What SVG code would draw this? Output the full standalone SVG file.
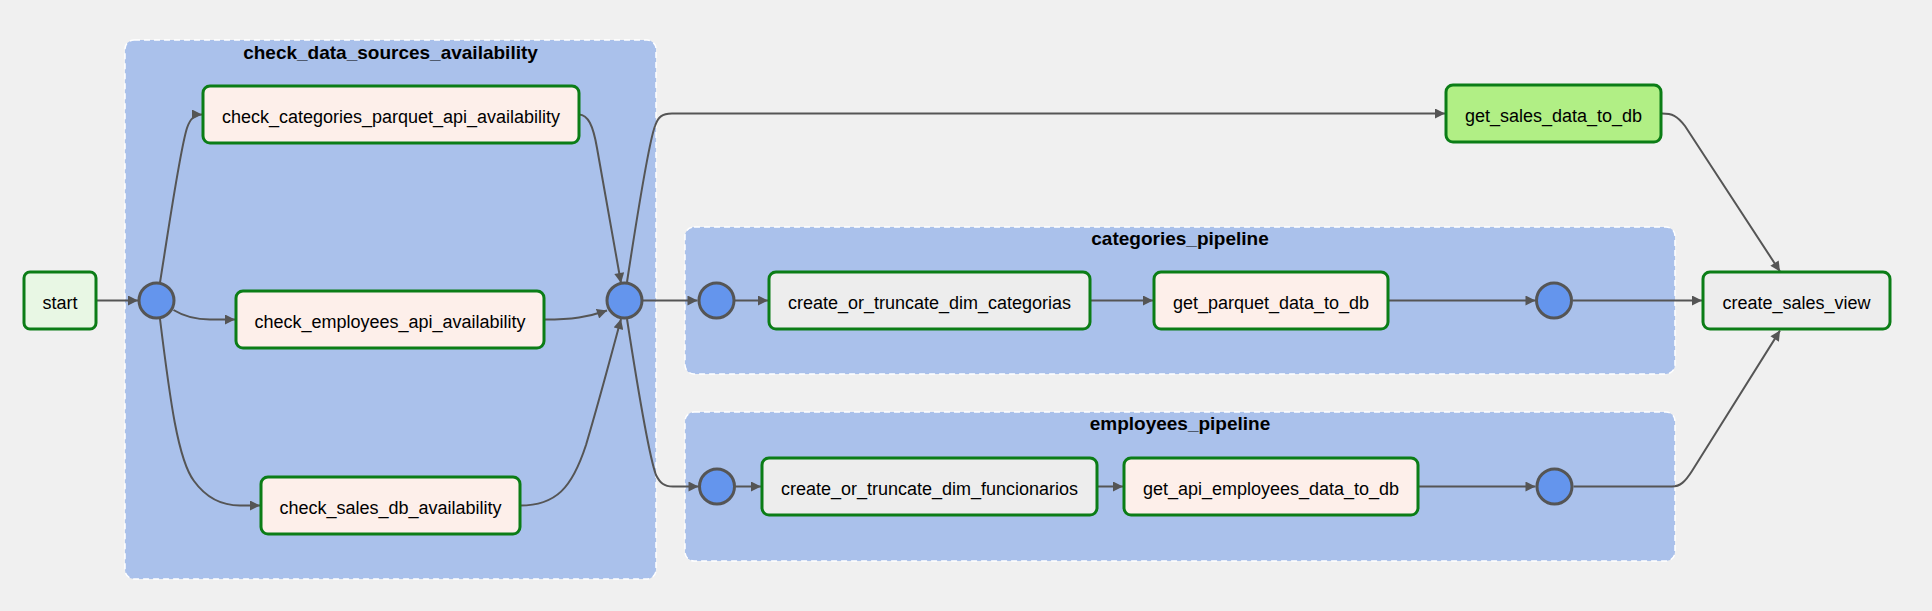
<svg xmlns="http://www.w3.org/2000/svg" width="1932" height="611" viewBox="0 0 1932 611">
<style>
.cluster{fill:#aac1eb;stroke:#ffffff;stroke-width:1.5;stroke-dasharray:6 4;opacity:1}
.ctitle{font-family:"Liberation Sans",Arial,sans-serif;font-size:19px;font-weight:bold;fill:#000;text-anchor:middle}
.task{stroke:#0b7d16;stroke-width:3}
.label{font-family:"Liberation Sans",Arial,sans-serif;font-size:18px;fill:#000;text-anchor:middle}
.join{fill:#6495ed;stroke:#555;stroke-width:3}
.edge{fill:none;stroke:#555;stroke-width:2}
.sensor{fill:#fdefea}
.empty{fill:#e8f7e4}
.py{fill:#b1ef85}
.sql{fill:#ededed}
</style>
<defs>
<marker id="arr" viewBox="0 0 10 10" refX="10" refY="5" markerWidth="11" markerHeight="10" markerUnits="userSpaceOnUse" orient="auto">
<path d="M0,0 L10,5 L0,10 z" fill="#555"/>
</marker>
</defs>
<rect width="1932" height="611" fill="#f0f0f0"/>

<g id="cluster_check_data_sources_availability">
<rect class="cluster" x="125" y="40" width="531" height="539" rx="9"/>
<text class="ctitle" x="390.5" y="58.5">check_data_sources_availability</text>
</g>
<g id="cluster_categories_pipeline">
<rect class="cluster" x="685" y="227" width="990" height="147" rx="9"/>
<text class="ctitle" x="1180" y="244.5">categories_pipeline</text>
</g>
<g id="cluster_employees_pipeline">
<rect class="cluster" x="685" y="412" width="990" height="149" rx="9"/>
<text class="ctitle" x="1180" y="430">employees_pipeline</text>
</g>

<g id="connectors">
<path class="edge" marker-end="url(#arr)" d="M97,300.5 L138,300.5"/>
<path class="edge" marker-end="url(#arr)" d="M160,282.5 C170,220 180,150 187,128 C190,119 194,114.5 202,114.5"/>
<path class="edge" marker-end="url(#arr)" d="M173.5,310 C185,317 196,319.5 210,319.5 L235,319.5"/>
<path class="edge" marker-end="url(#arr)" d="M160,319 C170,400 178,460 194,481 C207,499 222,505.5 240,505.5 L260,505.5"/>
<path class="edge" marker-end="url(#arr)" d="M579,114.5 C588,115 593,125 597,148 L621,283"/>
<path class="edge" marker-end="url(#arr)" d="M545,319.5 C572,319.5 588,317 607,310.5"/>
<path class="edge" marker-end="url(#arr)" d="M520,505.5 C556,505.5 572,488 586,445 C598,405 610,360 621,319"/>
<path class="edge" marker-end="url(#arr)" d="M627,282 C638,210 649,142 655,126 C658,117 662,113.5 672,113.5 L1445,113.5"/>
<path class="edge" marker-end="url(#arr)" d="M643,300.5 L697.5,300.5"/>
<path class="edge" marker-end="url(#arr)" d="M627,319 C638,390 649,456 656,475 C660,483 664,486.5 673,486.5 L698.5,486.5"/>
<path class="edge" marker-end="url(#arr)" d="M735,300.5 L768,300.5"/>
<path class="edge" marker-end="url(#arr)" d="M1091,300.5 L1153,300.5"/>
<path class="edge" marker-end="url(#arr)" d="M1389,300.5 L1535.5,300.5"/>
<path class="edge" marker-end="url(#arr)" d="M1573,300.5 L1702,300.5"/>
<path class="edge" marker-end="url(#arr)" d="M1662,113.5 C1672,113.5 1677,115.5 1685,126 L1780,271.5"/>
<path class="edge" marker-end="url(#arr)" d="M1573.5,486.5 L1672,486.5 C1680,486.5 1685,482 1692,471 L1780,330.5"/>
<path class="edge" marker-end="url(#arr)" d="M735.5,486.5 L761,486.5"/>
<path class="edge" marker-end="url(#arr)" d="M1097.5,486.5 L1123,486.5"/>
<path class="edge" marker-end="url(#arr)" d="M1418.5,486.5 L1535.5,486.5"/>
</g>

<g id="start">
<rect class="task empty" x="24" y="272" width="72" height="57" rx="6"/>
<text class="label" x="60" y="309">start</text>
</g>
<g id="join_check_in">
<circle class="join" cx="156.5" cy="300.5" r="17.5"/>
</g>
<g id="check_categories_parquet_api_availability">
<rect class="task sensor" x="203" y="86" width="376" height="57" rx="7"/>
<text class="label" x="391" y="122.5">check_categories_parquet_api_availability</text>
</g>
<g id="check_employees_api_availability">
<rect class="task sensor" x="236" y="291" width="308" height="57" rx="7"/>
<text class="label" x="390" y="327.5">check_employees_api_availability</text>
</g>
<g id="check_sales_db_availability">
<rect class="task sensor" x="261" y="477" width="259" height="57" rx="7"/>
<text class="label" x="390.5" y="513.5">check_sales_db_availability</text>
</g>
<g id="join_check_out">
<circle class="join" cx="624.5" cy="300.5" r="17.5"/>
</g>
<g id="join_categories_in">
<circle class="join" cx="716.5" cy="300.5" r="17.5"/>
</g>
<g id="create_or_truncate_dim_categorias">
<rect class="task sql" x="769" y="272" width="321" height="57" rx="7"/>
<text class="label" x="929.5" y="308.5">create_or_truncate_dim_categorias</text>
</g>
<g id="get_parquet_data_to_db">
<rect class="task sensor" x="1154" y="272" width="234" height="57" rx="7"/>
<text class="label" x="1271" y="308.5">get_parquet_data_to_db</text>
</g>
<g id="join_categories_out">
<circle class="join" cx="1554" cy="300.5" r="17.5"/>
</g>
<g id="join_employees_in">
<circle class="join" cx="717" cy="486.5" r="17.5"/>
</g>
<g id="create_or_truncate_dim_funcionarios">
<rect class="task sql" x="762" y="458" width="335" height="57" rx="7"/>
<text class="label" x="929.5" y="494.5">create_or_truncate_dim_funcionarios</text>
</g>
<g id="get_api_employees_data_to_db">
<rect class="task sensor" x="1124" y="458" width="294" height="57" rx="7"/>
<text class="label" x="1271" y="494.5">get_api_employees_data_to_db</text>
</g>
<g id="join_employees_out">
<circle class="join" cx="1554.5" cy="486.5" r="17.5"/>
</g>
<g id="get_sales_data_to_db">
<rect class="task py" x="1446" y="85" width="215" height="57" rx="7"/>
<text class="label" x="1553.5" y="121.5">get_sales_data_to_db</text>
</g>
<g id="create_sales_view">
<rect class="task sql" x="1703" y="272" width="187" height="57" rx="7"/>
<text class="label" x="1796.5" y="308.5">create_sales_view</text>
</g>
</svg>
